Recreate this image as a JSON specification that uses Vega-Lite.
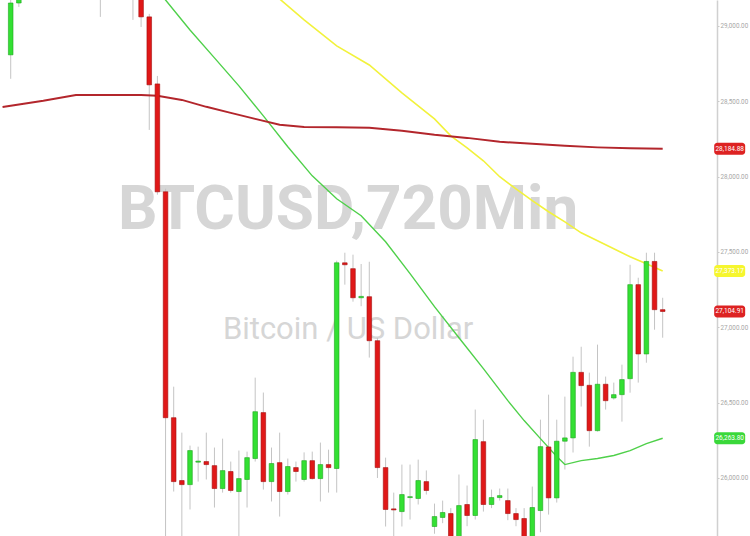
{
  "$schema": "https://vega.github.io/schema/vega-lite/v6.json",
  "width": 750,
  "height": 536,
  "autosize": {"type": "none"},
  "padding": 0,
  "background": "white",
  "config": {"view": {"stroke": null}},
  "datasets": {
    "candles": [
      {"n":0,"open":28808,"high":29205,"low":28649,"close":29152},
      {"n":1,"open":29152,"high":29350,"low":29126,"close":29300},
      {"n":2,"open":29300,"high":29480,"low":29250,"close":29420},
      {"n":3,"open":29420,"high":29500,"low":29330,"close":29380},
      {"n":4,"open":29380,"high":29520,"low":29340,"close":29450},
      {"n":5,"open":29450,"high":29490,"low":29350,"close":29400},
      {"n":6,"open":29400,"high":29530,"low":29360,"close":29470},
      {"n":7,"open":29470,"high":29510,"low":29380,"close":29430},
      {"n":8,"open":29430,"high":29500,"low":29390,"close":29460},
      {"n":9,"open":29460,"high":29480,"low":29360,"close":29410},
      {"n":10,"open":29410,"high":29490,"low":29370,"close":29440},
      {"n":11,"open":29440,"high":29460,"low":29060,"close":29390},
      {"n":12,"open":29390,"high":29450,"low":29330,"close":29420},
      {"n":13,"open":29420,"high":29460,"low":29310,"close":29380},
      {"n":14,"open":29380,"high":29410,"low":29280,"close":29350},
      {"n":15,"open":29350,"high":29380,"low":29040,"close":29300},
      {"n":16,"open":29300,"high":29330,"low":28993,"close":29060},
      {"n":17,"open":29060,"high":29080,"low":28310,"close":28609},
      {"n":18,"open":28615,"high":28668,"low":27880,"close":27899},
      {"n":19,"open":27899,"high":27920,"low":25580,"close":26400},
      {"n":20,"open":26400,"high":26606,"low":25910,"close":25976},
      {"n":21,"open":25983,"high":26301,"low":25600,"close":25956},
      {"n":22,"open":25956,"high":26215,"low":25791,"close":26182},
      {"n":23,"open":26105,"high":26208,"low":25976,"close":26112},
      {"n":24,"open":26109,"high":26301,"low":25990,"close":26089},
      {"n":25,"open":26082,"high":26202,"low":25804,"close":25930},
      {"n":26,"open":25930,"high":26261,"low":25903,"close":26049},
      {"n":27,"open":26043,"high":26109,"low":25903,"close":25917},
      {"n":28,"open":25910,"high":26182,"low":25600,"close":25996},
      {"n":29,"open":25990,"high":26175,"low":25804,"close":26135},
      {"n":30,"open":26129,"high":26666,"low":26109,"close":26440},
      {"n":31,"open":26434,"high":26567,"low":25923,"close":25976},
      {"n":32,"open":25976,"high":26202,"low":25844,"close":26096},
      {"n":33,"open":26102,"high":26301,"low":25744,"close":25910},
      {"n":34,"open":25910,"high":26129,"low":25890,"close":26076},
      {"n":35,"open":26069,"high":26109,"low":25976,"close":26043},
      {"n":36,"open":25990,"high":26170,"low":25976,"close":26115},
      {"n":37,"open":26115,"high":26175,"low":25990,"close":25996},
      {"n":38,"open":25996,"high":26235,"low":25844,"close":26089},
      {"n":39,"open":26089,"high":26188,"low":25903,"close":26069},
      {"n":40,"open":26063,"high":27442,"low":25903,"close":27428},
      {"n":41,"open":27428,"high":27495,"low":27283,"close":27415},
      {"n":42,"open":27389,"high":27482,"low":27170,"close":27196},
      {"n":43,"open":27196,"high":27420,"low":27140,"close":27205},
      {"n":44,"open":27203,"high":27435,"low":26799,"close":26911},
      {"n":45,"open":26911,"high":26930,"low":26000,"close":26069},
      {"n":46,"open":26069,"high":26135,"low":25678,"close":25791},
      {"n":47,"open":25795,"high":25903,"low":25600,"close":25788},
      {"n":48,"open":25777,"high":26089,"low":25678,"close":25890},
      {"n":49,"open":25870,"high":26089,"low":25724,"close":25876},
      {"n":50,"open":25864,"high":26122,"low":25824,"close":25983},
      {"n":51,"open":25976,"high":26050,"low":25890,"close":25917},
      {"n":52,"open":25678,"high":25830,"low":25630,"close":25744},
      {"n":53,"open":25738,"high":25850,"low":25700,"close":25771},
      {"n":54,"open":25764,"high":25800,"low":25560,"close":25600},
      {"n":55,"open":25590,"high":26023,"low":25560,"close":25817},
      {"n":56,"open":25824,"high":25950,"low":25680,"close":25751},
      {"n":57,"open":25751,"high":26454,"low":25724,"close":26255},
      {"n":58,"open":26241,"high":26387,"low":25777,"close":25824},
      {"n":59,"open":25824,"high":25923,"low":25800,"close":25870},
      {"n":60,"open":25870,"high":25930,"low":25850,"close":25883},
      {"n":61,"open":25850,"high":25930,"low":25720,"close":25764},
      {"n":62,"open":25764,"high":25800,"low":25680,"close":25724},
      {"n":63,"open":25731,"high":25800,"low":25560,"close":25600},
      {"n":64,"open":25600,"high":25943,"low":25560,"close":25804},
      {"n":65,"open":25784,"high":26387,"low":25640,"close":26208},
      {"n":66,"open":26206,"high":26553,"low":25757,"close":25868},
      {"n":67,"open":25868,"high":26387,"low":25837,"close":26244},
      {"n":68,"open":26244,"high":26540,"low":26056,"close":26266},
      {"n":69,"open":26266,"high":26805,"low":26169,"close":26701},
      {"n":70,"open":26701,"high":26871,"low":26474,"close":26613},
      {"n":71,"open":26615,"high":26699,"low":26208,"close":26314},
      {"n":72,"open":26314,"high":26885,"low":26308,"close":26622},
      {"n":73,"open":26622,"high":26673,"low":26454,"close":26513},
      {"n":74,"open":26531,"high":26633,"low":26520,"close":26553},
      {"n":75,"open":26553,"high":26752,"low":26374,"close":26653},
      {"n":76,"open":26659,"high":27415,"low":26566,"close":27283},
      {"n":77,"open":27283,"high":27329,"low":26633,"close":26823},
      {"n":78,"open":26823,"high":27495,"low":26765,"close":27437},
      {"n":79,"open":27437,"high":27495,"low":26984,"close":27117},
      {"n":80,"open":27117,"high":27196,"low":26931,"close":27104.91}
    ],
    "ma": [
      {"series":"MA200","n":-1,"value":28462},
      {"series":"MA200","n":0,"value":28470},
      {"series":"MA200","n":4,"value":28503},
      {"series":"MA200","n":8,"value":28542},
      {"series":"MA200","n":12,"value":28542},
      {"series":"MA200","n":16,"value":28542},
      {"series":"MA200","n":18,"value":28536},
      {"series":"MA200","n":21,"value":28509},
      {"series":"MA200","n":24,"value":28463},
      {"series":"MA200","n":27,"value":28423},
      {"series":"MA200","n":30,"value":28383},
      {"series":"MA200","n":33,"value":28344},
      {"series":"MA200","n":36,"value":28330},
      {"series":"MA200","n":40,"value":28327},
      {"series":"MA200","n":44,"value":28324},
      {"series":"MA200","n":48,"value":28304},
      {"series":"MA200","n":52,"value":28277},
      {"series":"MA200","n":56,"value":28257},
      {"series":"MA200","n":60,"value":28231},
      {"series":"MA200","n":64,"value":28218},
      {"series":"MA200","n":68,"value":28204},
      {"series":"MA200","n":72,"value":28194},
      {"series":"MA200","n":76,"value":28188},
      {"series":"MA200","n":80,"value":28184.88},
      {"series":"MA100","n":32,"value":29225},
      {"series":"MA100","n":33,"value":29179},
      {"series":"MA100","n":36,"value":29040},
      {"series":"MA100","n":40,"value":28867},
      {"series":"MA100","n":44,"value":28741},
      {"series":"MA100","n":48,"value":28556},
      {"series":"MA100","n":52,"value":28383},
      {"series":"MA100","n":54,"value":28270},
      {"series":"MA100","n":56,"value":28191},
      {"series":"MA100","n":58,"value":28105},
      {"series":"MA100","n":60,"value":27999},
      {"series":"MA100","n":62,"value":27919},
      {"series":"MA100","n":64,"value":27840},
      {"series":"MA100","n":66,"value":27767},
      {"series":"MA100","n":68,"value":27700},
      {"series":"MA100","n":70,"value":27627},
      {"series":"MA100","n":72,"value":27574},
      {"series":"MA100","n":74,"value":27521},
      {"series":"MA100","n":76,"value":27468},
      {"series":"MA100","n":78,"value":27422},
      {"series":"MA100","n":80,"value":27373.17},
      {"series":"MA50","n":18,"value":29239},
      {"series":"MA50","n":19,"value":29172},
      {"series":"MA50","n":22,"value":28973},
      {"series":"MA50","n":25,"value":28788},
      {"series":"MA50","n":28,"value":28602},
      {"series":"MA50","n":31,"value":28403},
      {"series":"MA50","n":34,"value":28198},
      {"series":"MA50","n":37,"value":28005},
      {"series":"MA50","n":40,"value":27853},
      {"series":"MA50","n":43,"value":27740},
      {"series":"MA50","n":46,"value":27568},
      {"series":"MA50","n":49,"value":27356},
      {"series":"MA50","n":52,"value":27137},
      {"series":"MA50","n":55,"value":26931},
      {"series":"MA50","n":58,"value":26726},
      {"series":"MA50","n":61,"value":26513},
      {"series":"MA50","n":63,"value":26381},
      {"series":"MA50","n":65,"value":26261},
      {"series":"MA50","n":67,"value":26142},
      {"series":"MA50","n":68,"value":26089},
      {"series":"MA50","n":70,"value":26115},
      {"series":"MA50","n":72,"value":26129},
      {"series":"MA50","n":74,"value":26149},
      {"series":"MA50","n":76,"value":26182},
      {"series":"MA50","n":78,"value":26228},
      {"series":"MA50","n":80,"value":26263.8}
    ],
    "tags": [
      {"series":"MA200","value":28184.88},
      {"series":"MA100","value":27373.17},
      {"series":"close","value":27104.91},
      {"series":"MA50","value":26263.8}
    ]
  },
  "layer": [
    {
      "data": {"values": [{"label": "BTCUSD,720Min"}]},
      "mark": {"type": "text", "font": "Roboto", "fontSize": 62, "fontWeight": "bold", "color": "#d6d6d6", "baseline": "alphabetic", "align": "center"},
      "encoding": {
        "x": {"datum": 41.4, "type": "quantitative", "scale": {"domain": [-0.7, 90.1], "nice": false, "zero": false}, "axis": null},
        "y": {"datum": 27650, "type": "quantitative", "scale": {"domain": [25615, 29172], "nice": false, "zero": false},
              "axis": {"orient": "right", "offset": -33, "values": [26000, 26500, 27000, 27500, 28000, 28500, 29000], "format": ",.2f", "title": null, "grid": false, "labelFont": "Roboto", "labelFontSize": 6.3, "labelColor": "#a6a6a6", "tickColor": "#c8c8c8", "tickSize": 2, "domainColor": "#d0d0d0", "domainWidth": 1.5, "labelPadding": 1}},
        "text": {"field": "label"}
      }
    },
    {
      "data": {"values": [{"label": "Bitcoin / US Dollar"}]},
      "mark": {"type": "text", "font": "Roboto", "fontSize": 31, "color": "#d6d6d6", "baseline": "alphabetic", "align": "center"},
      "encoding": {
        "x": {"datum": 41.4, "type": "quantitative", "scale": {"domain": [-0.7, 90.1], "nice": false, "zero": false}, "axis": null},
        "y": {"datum": 26925, "type": "quantitative", "scale": {"domain": [25615, 29172], "nice": false, "zero": false},
              "axis": {"orient": "right", "offset": -33, "values": [26000, 26500, 27000, 27500, 28000, 28500, 29000], "format": ",.2f", "title": null, "grid": false, "labelFont": "Roboto", "labelFontSize": 6.3, "labelColor": "#a6a6a6", "tickColor": "#c8c8c8", "tickSize": 2, "domainColor": "#d0d0d0", "domainWidth": 1.5, "labelPadding": 1}},
        "text": {"field": "label"}
      }
    },
    {
      "data": {"name": "candles"},
      "mark": {"type": "rule", "color": "#c4c4c4", "strokeWidth": 1, "clip": true},
      "encoding": {
        "x": {"field": "n", "type": "quantitative", "scale": {"domain": [-0.7, 90.1], "nice": false, "zero": false}, "axis": null},
        "y": {"field": "low", "type": "quantitative", "scale": {"domain": [25615, 29172], "nice": false, "zero": false},
              "axis": {"orient": "right", "offset": -33, "values": [26000, 26500, 27000, 27500, 28000, 28500, 29000], "format": ",.2f", "title": null, "grid": false, "labelFont": "Roboto", "labelFontSize": 6.3, "labelColor": "#a6a6a6", "tickColor": "#c8c8c8", "tickSize": 2, "domainColor": "#d0d0d0", "domainWidth": 1.5, "labelPadding": 1}},
        "y2": {"field": "high"}
      }
    },
    {
      "data": {"name": "ma"},
      "transform": [{"filter": "datum.series == 'MA50'"}],
      "mark": {"type": "line", "color": "#4fd04a", "strokeWidth": 1.4, "clip": true},
      "encoding": {
        "x": {"field": "n", "type": "quantitative", "scale": {"domain": [-0.7, 90.1], "nice": false, "zero": false}, "axis": null},
        "y": {"field": "value", "type": "quantitative", "scale": {"domain": [25615, 29172], "nice": false, "zero": false},
              "axis": {"orient": "right", "offset": -33, "values": [26000, 26500, 27000, 27500, 28000, 28500, 29000], "format": ",.2f", "title": null, "grid": false, "labelFont": "Roboto", "labelFontSize": 6.3, "labelColor": "#a6a6a6", "tickColor": "#c8c8c8", "tickSize": 2, "domainColor": "#d0d0d0", "domainWidth": 1.5, "labelPadding": 1}}
      }
    },
    {
      "data": {"name": "ma"},
      "transform": [{"filter": "datum.series == 'MA100'"}],
      "mark": {"type": "line", "color": "#f2f23c", "strokeWidth": 1.6, "clip": true},
      "encoding": {
        "x": {"field": "n", "type": "quantitative", "scale": {"domain": [-0.7, 90.1], "nice": false, "zero": false}, "axis": null},
        "y": {"field": "value", "type": "quantitative", "scale": {"domain": [25615, 29172], "nice": false, "zero": false},
              "axis": {"orient": "right", "offset": -33, "values": [26000, 26500, 27000, 27500, 28000, 28500, 29000], "format": ",.2f", "title": null, "grid": false, "labelFont": "Roboto", "labelFontSize": 6.3, "labelColor": "#a6a6a6", "tickColor": "#c8c8c8", "tickSize": 2, "domainColor": "#d0d0d0", "domainWidth": 1.5, "labelPadding": 1}}
      }
    },
    {
      "data": {"name": "ma"},
      "transform": [{"filter": "datum.series == 'MA200'"}],
      "mark": {"type": "line", "color": "#b3262c", "strokeWidth": 2, "clip": true},
      "encoding": {
        "x": {"field": "n", "type": "quantitative", "scale": {"domain": [-0.7, 90.1], "nice": false, "zero": false}, "axis": null},
        "y": {"field": "value", "type": "quantitative", "scale": {"domain": [25615, 29172], "nice": false, "zero": false},
              "axis": {"orient": "right", "offset": -33, "values": [26000, 26500, 27000, 27500, 28000, 28500, 29000], "format": ",.2f", "title": null, "grid": false, "labelFont": "Roboto", "labelFontSize": 6.3, "labelColor": "#a6a6a6", "tickColor": "#c8c8c8", "tickSize": 2, "domainColor": "#d0d0d0", "domainWidth": 1.5, "labelPadding": 1}}
      }
    },
    {
      "data": {"name": "candles"},
      "mark": {"type": "bar", "width": 4.6, "strokeWidth": 0.6, "clip": true},
      "encoding": {
        "x": {"field": "n", "type": "quantitative", "scale": {"domain": [-0.7, 90.1], "nice": false, "zero": false}, "axis": null},
        "y": {"field": "open", "type": "quantitative", "scale": {"domain": [25615, 29172], "nice": false, "zero": false},
              "axis": {"orient": "right", "offset": -33, "values": [26000, 26500, 27000, 27500, 28000, 28500, 29000], "format": ",.2f", "title": null, "grid": false, "labelFont": "Roboto", "labelFontSize": 6.3, "labelColor": "#a6a6a6", "tickColor": "#c8c8c8", "tickSize": 2, "domainColor": "#d0d0d0", "domainWidth": 1.5, "labelPadding": 1}},
        "y2": {"field": "close"},
        "color": {"condition": {"test": "datum.close < datum.open", "value": "#e01818"}, "value": "#33e033"},
        "stroke": {"condition": {"test": "datum.close < datum.open", "value": "#a30f0f"}, "value": "#1fa51f"}
      }
    },
    {
      "data": {"name": "tags"},
      "mark": {"type": "tick", "orient": "horizontal", "size": 31, "thickness": 12, "cornerRadius": 3, "opacity": 1},
      "encoding": {
        "x": {"datum": 88.22, "type": "quantitative", "scale": {"domain": [-0.7, 90.1], "nice": false, "zero": false}, "axis": null},
        "y": {"field": "value", "type": "quantitative", "scale": {"domain": [25615, 29172], "nice": false, "zero": false},
              "axis": {"orient": "right", "offset": -33, "values": [26000, 26500, 27000, 27500, 28000, 28500, 29000], "format": ",.2f", "title": null, "grid": false, "labelFont": "Roboto", "labelFontSize": 6.3, "labelColor": "#a6a6a6", "tickColor": "#c8c8c8", "tickSize": 2, "domainColor": "#d0d0d0", "domainWidth": 1.5, "labelPadding": 1}},
        "color": {"field": "series", "type": "nominal", "scale": {"domain": ["MA200", "MA100", "close", "MA50"], "range": ["#dd2222", "#f6f62e", "#dd2222", "#3ad83a"]}, "legend": null}
      }
    },
    {
      "data": {"name": "tags"},
      "mark": {"type": "text", "font": "Roboto", "fontSize": 6.5, "color": "white", "align": "center", "baseline": "middle"},
      "encoding": {
        "x": {"datum": 88.22, "type": "quantitative", "scale": {"domain": [-0.7, 90.1], "nice": false, "zero": false}, "axis": null},
        "y": {"field": "value", "type": "quantitative", "scale": {"domain": [25615, 29172], "nice": false, "zero": false},
              "axis": {"orient": "right", "offset": -33, "values": [26000, 26500, 27000, 27500, 28000, 28500, 29000], "format": ",.2f", "title": null, "grid": false, "labelFont": "Roboto", "labelFontSize": 6.3, "labelColor": "#a6a6a6", "tickColor": "#c8c8c8", "tickSize": 2, "domainColor": "#d0d0d0", "domainWidth": 1.5, "labelPadding": 1}},
        "text": {"field": "value", "type": "quantitative", "format": ",.2f"}
      }
    }
  ]
}
